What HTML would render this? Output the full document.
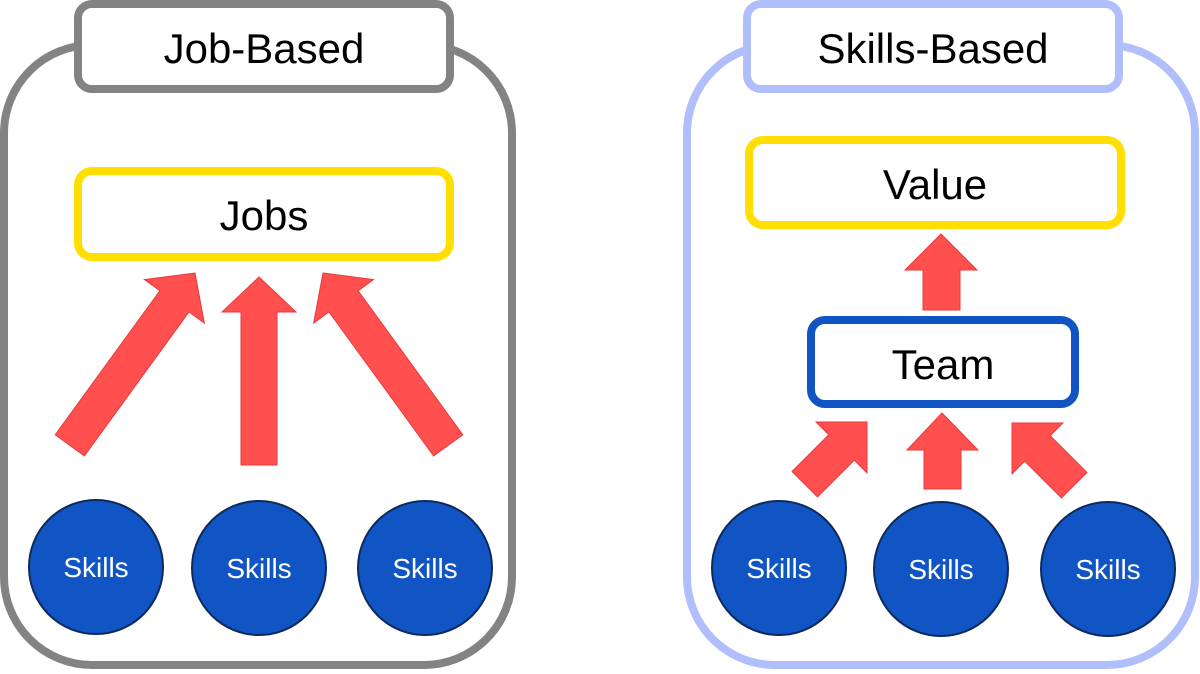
<!DOCTYPE html>
<html><head><style>html,body{margin:0;padding:0;background:#fff;}svg{display:block}</style></head>
<body>
<svg width="1200" height="674" viewBox="0 0 1200 674" xmlns="http://www.w3.org/2000/svg" font-family="'Liberation Sans', sans-serif">
<!-- Left container -->
<rect x="4" y="45" width="508" height="620" rx="88" fill="#fff" stroke="#838383" stroke-width="8"/>
<rect x="78" y="4" width="372" height="85" rx="14" fill="#fff" stroke="#838383" stroke-width="8"/>
<text x="264" y="63" font-size="42" text-anchor="middle">Job-Based</text>
<rect x="78" y="171" width="372" height="86" rx="14" fill="#fff" stroke="#FFDE00" stroke-width="8"/>
<text x="264" y="230" font-size="42" text-anchor="middle">Jobs</text>
<g fill="#FF4F4F" stroke="#E83A3A" stroke-width="1">
<polygon points="259,277 296,312 277,312 277,465 241,465 241,312 222,312"/>
<g transform="translate(195,273) rotate(36)"><polygon points="0,0 37,35 18,35 18,213 -18,213 -18,35 -37,35"/></g>
<g transform="translate(323,273) rotate(-36)"><polygon points="0,0 37,35 18,35 18,213 -18,213 -18,35 -37,35"/></g>
</g>
<g fill="#1155C4" stroke="#0E2A5C" stroke-width="2">
<circle cx="96" cy="567" r="67"/><circle cx="259" cy="568" r="67"/><circle cx="425" cy="568" r="67"/>
</g>
<g fill="#fff" font-size="28" text-anchor="middle">
<text x="96" y="577">Skills</text><text x="259" y="578">Skills</text><text x="425" y="578">Skills</text>
</g>
<!-- Right container -->
<rect x="687" y="45" width="508" height="620" rx="88" fill="#fff" stroke="#B1BEFC" stroke-width="8"/>
<rect x="747" y="4" width="372" height="85" rx="14" fill="#fff" stroke="#B1BEFC" stroke-width="8"/>
<text x="933" y="63" font-size="42" text-anchor="middle">Skills-Based</text>
<rect x="749" y="140" width="372" height="85" rx="14" fill="#fff" stroke="#FFDE00" stroke-width="8"/>
<text x="935" y="199" font-size="42" text-anchor="middle">Value</text>
<rect x="811" y="320" width="264" height="84" rx="14" fill="#fff" stroke="#1155C4" stroke-width="8"/>
<text x="943" y="379" font-size="42" text-anchor="middle">Team</text>
<g fill="#FF4F4F" stroke="#E83A3A" stroke-width="1">
<polygon points="941,234 977,270 960,270 960,310 923,310 923,270 905,270"/>
<polygon points="942,413 978,450 961,450 961,489 924,489 924,450 907,450"/>
<g transform="translate(867,422) rotate(45)"><polygon points="0,0 36,36 18,36 18,88 -18,88 -18,36 -36,36"/></g>
<g transform="translate(1012,423) rotate(-45)"><polygon points="0,0 36,36 18,36 18,88 -18,88 -18,36 -36,36"/></g>
</g>
<g fill="#1155C4" stroke="#0E2A5C" stroke-width="2">
<circle cx="779" cy="568" r="67"/><circle cx="941" cy="569" r="67"/><circle cx="1108" cy="569" r="67"/>
</g>
<g fill="#fff" font-size="28" text-anchor="middle">
<text x="779" y="578">Skills</text><text x="941" y="579">Skills</text><text x="1108" y="579">Skills</text>
</g>
</svg>
</body></html>
